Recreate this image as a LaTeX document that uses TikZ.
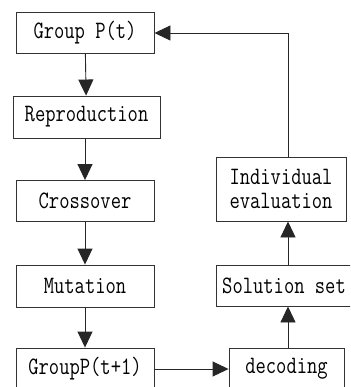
\documentclass[tikz,border=0pt]{standalone}
\usepackage{graphicx}
\usetikzlibrary{arrows.meta}
% narrow monospace labels
\newcommand{\lbl}[1]{\scalebox{0.8}[1]{#1}}
\begin{document}
\begin{tikzpicture}[x=1pt,y=-1pt,
  box/.style={draw=black!80, line width=0.9pt, inner sep=0pt,
    font=\ttfamily\fontsize{25}{28}\selectfont, align=center},
  flow/.style={draw=black!85, line width=0.9pt,
    -{Triangle[length=16pt,width=15pt]}}]
\useasboundingbox (0,0) rectangle (350,387);
\clip (0,0) rectangle (350,387);
\fill[white] (0,0) rectangle (350,387);

% left column
\node[box, minimum width=138pt, minimum height=41pt] (gp)  at (85,32.5)  {\lbl{Group P(t)}};
\node[box, minimum width=147pt, minimum height=42pt] (rep) at (86.5,117) {\lbl{Reproduction}};
\node[box, minimum width=138pt, minimum height=41pt] (cro) at (85,201)   {\lbl{Crossover}};
\node[box, minimum width=138pt, minimum height=42pt] (mut) at (85,286)   {\lbl{Mutation}};
\node[box, minimum width=138pt, minimum height=42pt] (gp1) at (85,369)   {\lbl{GroupP(t+1)}};

% right column
\node[box, minimum width=115pt, minimum height=42pt] (dec) at (286.5,369) {\lbl{decoding}};
\node[box, minimum width=136pt, minimum height=41pt] (sol) at (284,285.5) {\lbl{Solution set}};
\node[box, minimum width=130pt, minimum height=64pt] (ind) at (281,189)
  {\lbl{Individual}\\[-4pt]\lbl{evaluation}};

\coordinate (spine) at (288,0);
\coordinate (turn) at (288,33);

% connectors
\draw[flow] (gp)  -- (rep);
\draw[flow] (rep.south -| gp) -- (cro);
\draw[flow] (cro) -- (mut);
\draw[flow] (mut) -- (gp1);
\draw[flow] (gp1.east) -- (dec.west);
\draw[flow] (spine |- dec.north) -- (spine |- sol.south);
\draw[flow] (spine |- sol.north) -- (spine |- ind.south);
\draw[flow] (spine |- ind.north) -- (turn) -- (turn -| gp.east);
\end{tikzpicture}
\end{document}
